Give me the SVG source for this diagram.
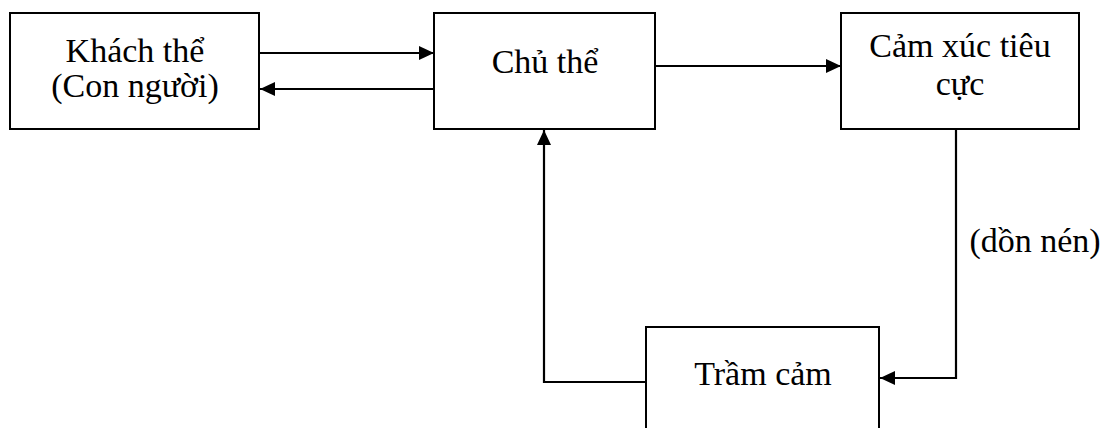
<svg xmlns="http://www.w3.org/2000/svg" width="1110" height="428" viewBox="0 0 1110 428">
  <style>
    .box { fill: #ffffff; stroke: #000000; stroke-width: 2; }
    .lbl { font-family: "Liberation Serif", "Times New Roman", serif; font-size: 34px; fill: #000000; text-anchor: middle; }
    .edge { fill: none; stroke: #000000; stroke-width: 2.2; }
  </style>
  <defs>
    <marker id="arrow" viewBox="0 0 15 14" refX="15" refY="7" markerWidth="15" markerHeight="14" markerUnits="userSpaceOnUse" orient="auto">
      <path d="M0,0 L15,7 L0,14 Z" fill="#000000"/>
    </marker>
  </defs>
  <rect width="1110" height="428" fill="#ffffff"/>

  <g id="connectors">
    <line class="edge" x1="259" y1="53" x2="434" y2="53" marker-end="url(#arrow)"/>
    <line class="edge" x1="434" y1="89" x2="260" y2="89" marker-end="url(#arrow)"/>
    <line class="edge" x1="655" y1="66" x2="841" y2="66" marker-end="url(#arrow)"/>
    <polyline class="edge" points="956,129 956,378 880,378" marker-end="url(#arrow)"/>
    <polyline class="edge" points="646,382 544,382 544,130" marker-end="url(#arrow)"/>
    <text class="lbl" x="1035" y="252">(dồn nén)</text>
  </g>

  <g id="khach-the">
    <rect class="box" x="10" y="13" width="249" height="116"/>
    <text class="lbl" x="135" y="62">Khách thể</text>
    <text class="lbl" x="135" y="97">(Con người)</text>
  </g>

  <g id="chu-the">
    <rect class="box" x="434" y="13" width="221" height="116"/>
    <text class="lbl" x="545" y="73">Chủ thể</text>
  </g>

  <g id="cam-xuc-tieu-cuc">
    <rect class="box" x="841" y="13" width="238" height="116"/>
    <text class="lbl" x="960" y="57">Cảm xúc tiêu</text>
    <text class="lbl" x="960" y="95">cực</text>
  </g>

  <g id="tram-cam">
    <rect class="box" x="646" y="327" width="233" height="120"/>
    <text class="lbl" x="763" y="385">Trầm cảm</text>
  </g>
</svg>
